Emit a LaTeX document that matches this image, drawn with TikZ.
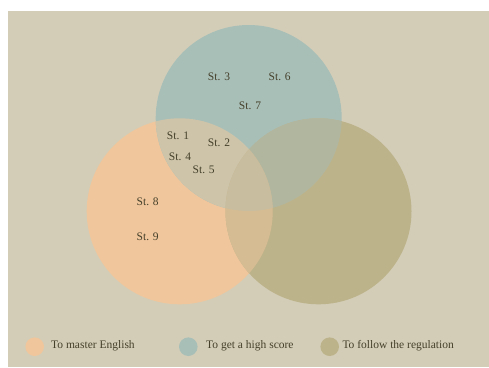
\documentclass[tikz,border=0pt]{standalone}
\usepackage{fontspec}
\setmainfont{Liberation Serif}
\definecolor{bgc}{HTML}{D3CDB7}
\definecolor{orc}{HTML}{F0C69C}
\definecolor{blc}{HTML}{A8BFB8}
\definecolor{olc}{HTML}{BDB38A}
\definecolor{orbl}{HTML}{CDC4AA}
\definecolor{blol}{HTML}{B1B79F}
\definecolor{orol}{HTML}{D6BC93}
\definecolor{allc}{HTML}{C8BD9E}
\definecolor{txc}{HTML}{45402A}
\tikzset{
  lbl/.style={text=txc, font=\fontsize{11.5}{13}\selectfont, inner sep=0pt},
  legdot/.style={circle, minimum size=18.6pt, inner sep=0pt},
  legtxt/.style={lbl, anchor=west}
}
\begin{document}
\begin{tikzpicture}[x=1pt,y=-1pt]
\useasboundingbox (0,0) rectangle (489,367);
\fill[white] (0,0) rectangle (489,367);
\fill[bgc] (8,11) rectangle (489,367);
\def\CA{(179.7,211.3) circle (93)}
\def\CB{(248.7,118) circle (93)}
\def\CC{(318.5,211.3) circle (93)}
\fill[orc] \CA;
\fill[blc] \CB;
\fill[olc] \CC;
\begin{scope}\clip \CA; \fill[orbl] \CB; \end{scope}
\begin{scope}\clip \CB; \fill[blol] \CC; \end{scope}
\begin{scope}\clip \CA; \fill[orol] \CC; \end{scope}
\begin{scope}\clip \CA; \clip \CB; \fill[allc] \CC; \end{scope}
\node[lbl] (s3) at (219,76.7) {St. 3};
\node[lbl] (s6) at (279.7,76.7) {St. 6};
\node[lbl] (s7) at (250,105.7) {St. 7};
\node[lbl] (s1) at (178,135.7) {St. 1};
\node[lbl] (s2) at (219,142.7) {St. 2};
\node[lbl] (s4) at (180,156.7) {St. 4};
\node[lbl] (s5) at (203.7,170) {St. 5};
\node[lbl] (s8) at (147.7,201.3) {St. 8};
\node[lbl] (s9) at (147.7,237) {St. 9};
\node[legdot, fill=orc] (l1) at (34.7,346.7) {};
\node[legdot, fill=blc] (l2) at (188.3,346.7) {};
\node[legdot, fill=olc] (l3) at (329.7,346.7) {};
\node[legtxt] (t1) at (51,346) {To master English};
\node[legtxt] (t2) at (206,346) {To get a high score};
\node[legtxt] (t3) at (342.3,346) {To follow the regulation};
\end{tikzpicture}
\end{document}
